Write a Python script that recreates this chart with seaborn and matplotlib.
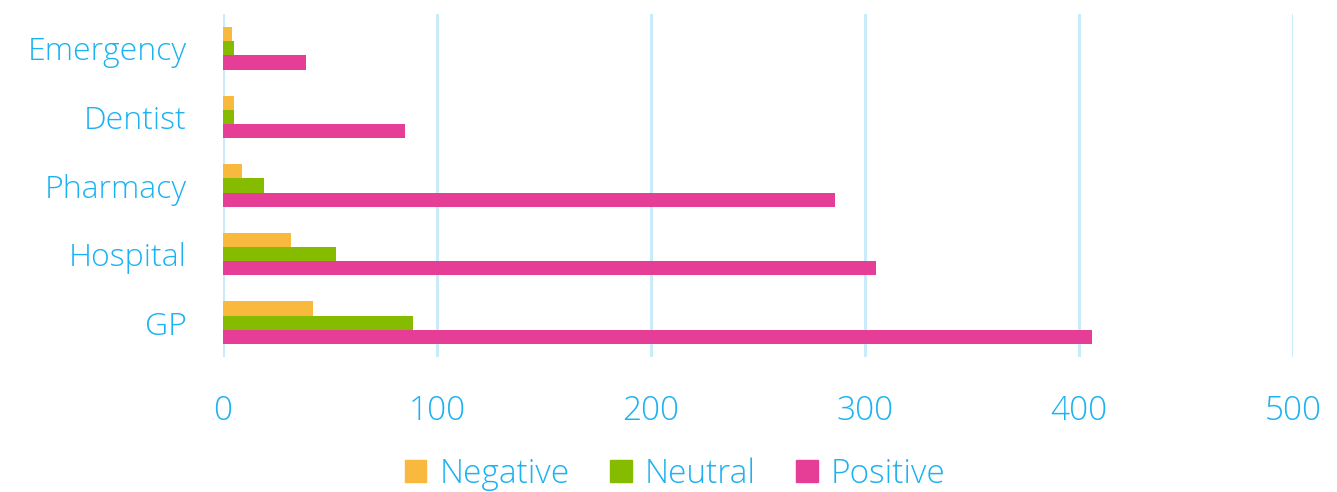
import numpy as np
import pandas as pd
import matplotlib
matplotlib.use('Agg')
import matplotlib.pyplot as plt
import seaborn as sns

# данные
categories = ['Emergency', 'Dentist', 'Pharmacy', 'Hospital', 'GP']
sentiments = ['Negative', 'Neutral', 'Positive']
negative = [4, 5, 9, 32, 42]
neutral = [5, 5, 19, 53, 89]
positive = [39, 85, 286, 305, 406]
x_ticks = [0, 100, 200, 300, 400, 500]

colors = {'Negative': '#F9B83E', 'Neutral': '#86BC00', 'Positive': '#E63E96'}
text_color = '#1AB2F2'
grid_color = '#C9EBFA'

df = pd.DataFrame({
    'category': categories * 3,
    'sentiment': ['Negative'] * 5 + ['Neutral'] * 5 + ['Positive'] * 5,
    'count': negative + neutral + positive,
})

sns.set_style('white')
plt.rcParams['font.family'] = ['Open Sans', 'DejaVu Sans']
plt.rcParams['font.weight'] = 'light'

fig = plt.figure(figsize=(13.37, 4.92), dpi=100)
ax = fig.add_axes([223 / 1337, 1 - 357 / 492, (1293 - 223) / 1337, 343 / 492])

sns.barplot(data=df, x='count', y='category', hue='sentiment', order=categories,
            hue_order=sentiments, palette=colors, orient='h', width=0.62,
            saturation=1, linewidth=0, ax=ax, legend=True)

ax.set_xlim(0, 500)
ax.set_ylim(4.5, -0.5)
ax.set_xticks(x_ticks)
ax.xaxis.grid(True, color=grid_color, linewidth=2.2)
ax.set_axisbelow(True)
for s in ax.spines.values():
    s.set_visible(False)
ax.tick_params(axis='x', length=0, pad=27, labelsize=24, labelcolor=text_color)
ax.tick_params(axis='y', length=0, pad=26, labelsize=23, labelcolor=text_color)
ax.set_xlabel('')
ax.set_ylabel('')

ax.get_legend().remove()
handles = [plt.Rectangle((0, 0), 1, 1, color=colors[s]) for s in sentiments]
leg = fig.legend(handles, sentiments, loc='center', bbox_to_anchor=(0.505, 1 - 474 / 492),
                 ncol=3, frameon=False, fontsize=24, handlelength=0.65, handleheight=0.65,
                 handletextpad=0.4, columnspacing=1.2)
for t in leg.get_texts():
    t.set_color(text_color)

fig.savefig('out.png', dpi=100)
